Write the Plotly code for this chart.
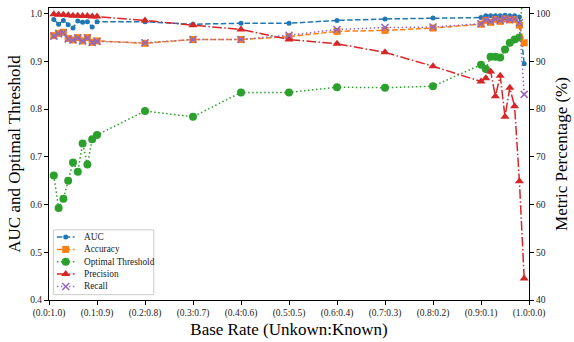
import plotly.graph_objects as go

# Base rate of unknown samples (fraction), evaluated at each point
base_rate = [0.01, 0.02, 0.03, 0.04, 0.05, 0.06, 0.07, 0.08, 0.09, 0.10,
             0.2, 0.3, 0.4, 0.5, 0.6, 0.7, 0.8,
             0.90, 0.91, 0.92, 0.93, 0.94, 0.95, 0.96, 0.97, 0.98, 0.99]

# Left axis metrics
auc = [0.988, 0.978, 0.986, 0.977, 0.970, 0.985, 0.982, 0.983, 0.972, 0.983,
       0.983, 0.978, 0.980, 0.980, 0.986, 0.989, 0.991,
       0.992, 0.996, 0.996, 0.996, 0.996, 0.997, 0.996, 0.996, 0.993, 0.895]
opt_threshold = [0.661, 0.593, 0.612, 0.650, 0.688, 0.669, 0.728, 0.684, 0.737, 0.746,
                 0.796, 0.784, 0.835, 0.835, 0.846, 0.845, 0.848,
                 0.893, 0.884, 0.910, 0.910, 0.908, 0.925, 0.939, 0.946, 0.950, 1.08]

# Right axis metrics (percent)
accuracy = [95.4, 95.9, 96.1, 94.8, 94.5, 95.0, 94.3, 95.0, 94.0, 94.3,
            93.8, 94.6, 94.6, 95.2, 96.3, 96.5, 97.0,
            97.8, 98.6, 98.2, 98.8, 98.4, 98.9, 98.7, 98.8, 97.6, 93.9]
precision = [99.9, 99.8, 99.8, 99.7, 99.6, 99.6, 99.5, 99.5, 99.4, 99.4,
             98.6, 97.6, 96.7, 94.6, 93.7, 91.9, 89.0,
             85.8, 86.5, 87.9, 82.7, 87.0, 78.4, 84.5, 80.6, 64.9, 44.5]
recall = [95.3, 95.8, 96.0, 94.7, 94.5, 94.9, 94.3, 94.9, 94.0, 94.2,
          93.9, 94.6, 94.6, 95.5, 96.7, 97.1, 97.2,
          97.9, 98.7, 98.4, 98.9, 98.6, 99.0, 98.8, 98.9, 98.1, 83.1]

x_tick_vals = [0.0, 0.1, 0.2, 0.3, 0.4, 0.5, 0.6, 0.7, 0.8, 0.9, 1.0]
x_tick_text = ["(0.0:1.0)", "(0.1:0.9)", "(0.2:0.8)", "(0.3:0.7)", "(0.4:0.6)",
               "(0.5:0.5)", "(0.6:0.4)", "(0.7:0.3)", "(0.8:0.2)", "(0.9:0.1)",
               "(1.0:0.0)"]

BLUE, ORANGE, GREEN, RED, PURPLE = "#1f77b4", "#ff7f0e", "#2ca02c", "#d62728", "#9467bd"
SERIF = "Liberation Serif, Times New Roman, serif"
TICK_SIZE = 9.5

DASH = "5.5px,2.4px"
DOT = "1.5px,2.5px"
DASHDOT = "9.6px,2.4px,1.5px,2.4px"

# (name, values, axis, colour, dash, marker symbol, marker size)
series = [
    ("AUC", auc, "y", BLUE, DASH, "circle", 5),
    ("Accuracy", accuracy, "y2", ORANGE, DASH, "square", 7),
    ("Optimal Threshold", opt_threshold, "y", GREEN, DOT, "circle", 8),
    ("Precision", precision, "y2", RED, DASHDOT, "triangle-up", 8),
    ("Recall", recall, "y2", PURPLE, DOT, "x-thin", 7),
]


def marker_style(symbol, size, color):
    m = dict(symbol=symbol, size=size, color=color)
    if symbol == "x-thin":
        m["line"] = dict(width=1.5, color=color)
    return m


fig = go.Figure()
for name, values, axis, color, dash, symbol, size in series:
    fig.add_trace(go.Scatter(
        x=base_rate, y=values, name=name, mode="lines+markers", yaxis=axis,
        line=dict(color=color, width=1.5, dash=dash),
        marker=marker_style(symbol, size, color), showlegend=False))

# Compact legend box drawn on a pixel-scaled overlay axis (plot area is 488 x 300 px)
PLOT_W, PLOT_H = 488, 300
box_l, box_r, box_b, box_t = 4.5, 106.5, 5.5, 72.0
row_top, row_step = 64.7, 12.7
sample_l, sample_c, sample_r, text_x = 8, 17, 26, 34
fig.add_trace(go.Scatter(
    x=[box_l, box_r, box_r, box_l, box_l], y=[box_b, box_b, box_t, box_t, box_b],
    xaxis="x3", yaxis="y3", mode="lines", fill="toself",
    fillcolor="rgba(255,255,255,0.85)", line=dict(color="#cccccc", width=1),
    hoverinfo="skip", showlegend=False))
for i, (name, values, axis, color, dash, symbol, size) in enumerate(series):
    ry = row_top - i * row_step
    fig.add_trace(go.Scatter(
        x=[sample_l, sample_r], y=[ry, ry], xaxis="x3", yaxis="y3", mode="lines",
        line=dict(color=color, width=1.5, dash=dash),
        hoverinfo="skip", showlegend=False))
    fig.add_trace(go.Scatter(
        x=[sample_c], y=[ry], xaxis="x3", yaxis="y3", mode="markers",
        marker=marker_style(symbol, size, color),
        hoverinfo="skip", showlegend=False))
    fig.add_annotation(x=text_x, y=ry, xref="x3", yref="y3", text=name, showarrow=False,
                       xanchor="left", yanchor="middle",
                       font=dict(family=SERIF, size=9.3, color="#222"))

fig.update_layout(
    width=574, height=342,
    margin=dict(l=49, r=37, t=7, b=35),
    paper_bgcolor="white", plot_bgcolor="white",
    font=dict(family=SERIF, size=10, color="#222"),
    showlegend=False,
    xaxis=dict(range=[0, 1], tickvals=x_tick_vals, ticktext=x_tick_text,
               showgrid=False, zeroline=False, showline=True, linecolor="black",
               linewidth=1, mirror=True, ticks="outside", ticklen=4, tickcolor="black",
               tickfont=dict(family=SERIF, size=TICK_SIZE, color="#222"),
               title=dict(text="Base Rate (Unkown:Known)", standoff=4,
                          font=dict(family=SERIF, size=17, color="black"))),
    yaxis=dict(range=[0.4, 1.012], tickvals=[0.4, 0.5, 0.6, 0.7, 0.8, 0.9, 1.0],
               ticktext=["0.4", "0.5", "0.6", "0.7", "0.8", "0.9", "1.0"],
               showgrid=False, zeroline=False, showline=True, linecolor="black",
               linewidth=1, mirror=True, ticks="outside", ticklen=4, tickcolor="black",
               tickfont=dict(family=SERIF, size=TICK_SIZE, color="#222"),
               title=dict(text="AUC and Optimal Threshold", standoff=5,
                          font=dict(family=SERIF, size=17, color="black"))),
    yaxis2=dict(range=[40, 101.2], tickvals=[40, 50, 60, 70, 80, 90, 100],
                overlaying="y", side="right",
                showgrid=False, zeroline=False, showline=True, linecolor="black",
                linewidth=1, ticks="outside", ticklen=4, tickcolor="black",
                tickfont=dict(family=SERIF, size=TICK_SIZE, color="#222"),
                title=dict(text="Metric Percentage (%)", standoff=5,
                           font=dict(family=SERIF, size=17, color="black"))),
    xaxis3=dict(range=[0, PLOT_W], overlaying="x", visible=False, fixedrange=True),
    yaxis3=dict(range=[0, PLOT_H], overlaying="y", visible=False, fixedrange=True),
)

fig.write_html("out.html")
